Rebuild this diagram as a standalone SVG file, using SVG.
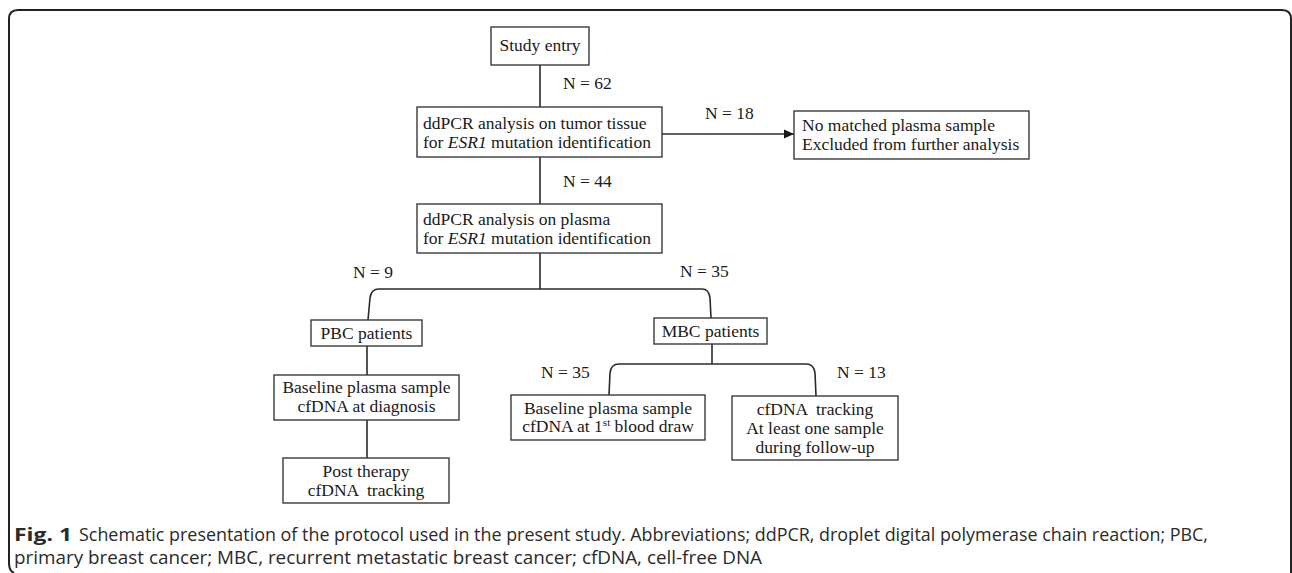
<svg xmlns="http://www.w3.org/2000/svg" width="1292" height="573" viewBox="0 0 1292 573">
<style>
  .box { fill: #ffffff; stroke: #3a3a3a; stroke-width: 1.4; }
  .t { font-family: "Liberation Serif", "Times New Roman", serif; font-size: 17.5px; fill: #1a1a1a; }
  .c { text-anchor: middle; }
  .i { font-style: italic; }
  .ln { fill: none; stroke: #2a2a2a; stroke-width: 1.6; }
  .cap { font-family: "Open Sans", "Noto Sans", sans-serif; font-size: 18.5px; fill: #2a2a2a; }
  .capb { font-weight: bold; }
</style>
<defs>
  <marker id="arr" markerWidth="11" markerHeight="11" refX="10" refY="5.5" orient="auto" markerUnits="userSpaceOnUse">
    <path d="M0,1 L10,5.5 L0,10 Z" fill="#1a1a1a"/>
  </marker>
</defs>
<rect width="1292" height="573" fill="#ffffff"/>
<path d="M14 573 Q9 571 9 563 L9 19 Q9 10 18 10 L1282 10 Q1291 10 1291 19 L1291 573" fill="none" stroke="#222" stroke-width="2"/>

<g id="connectors">
  <line class="ln" x1="540" y1="65" x2="540" y2="107"/>
  <line class="ln" x1="662" y1="134" x2="794" y2="134" marker-end="url(#arr)"/>
  <line class="ln" x1="540" y1="157" x2="540" y2="204"/>
  <line class="ln" x1="540" y1="253" x2="540" y2="289"/>
  <path class="ln" d="M368 320 L370 298 Q371 289 379 289 L702 289 Q709 289 710 298 L711 318"/>
  <line class="ln" x1="367" y1="346" x2="367" y2="375"/>
  <line class="ln" x1="367" y1="420" x2="367" y2="458"/>
  <line class="ln" x1="712" y1="344" x2="712" y2="364"/>
  <path class="ln" d="M609 395 L610 373 Q611 364 619 364 L806 364 Q814 364 815 373 L816 396"/>
  <text class="t" x="563" y="89">N = 62</text>
  <text class="t" x="705" y="119">N = 18</text>
  <text class="t" x="563" y="187">N = 44</text>
  <text class="t" x="353" y="278">N = 9</text>
  <text class="t" x="680" y="277">N = 35</text>
  <text class="t" x="541" y="378">N = 35</text>
  <text class="t" x="837" y="378">N = 13</text>
</g>

<g id="study-entry">
  <rect class="box" x="491" y="27" width="98" height="38"/>
  <text class="t c" x="540" y="51">Study entry</text>
</g>

<g id="tissue-analysis">
  <rect class="box" x="417" y="107" width="245" height="50"/>
  <text class="t" x="423" y="129">ddPCR analysis on tumor tissue</text>
  <text class="t" x="423" y="148">for <tspan class="i">ESR1</tspan> mutation identification</text>
</g>

<g id="excluded">
  <rect class="box" x="794" y="111" width="235" height="48"/>
  <text class="t" x="802" y="131">No matched plasma sample</text>
  <text class="t" x="802" y="150">Excluded from further analysis</text>
</g>

<g id="plasma-analysis">
  <rect class="box" x="417" y="204" width="245" height="49"/>
  <text class="t" x="423" y="225">ddPCR analysis on plasma</text>
  <text class="t" x="423" y="244">for <tspan class="i">ESR1</tspan> mutation identification</text>
</g>

<g id="pbc">
  <rect class="box" x="311" y="320" width="111" height="26"/>
  <text class="t c" x="366.5" y="339">PBC patients</text>
</g>

<g id="mbc">
  <rect class="box" x="654" y="318" width="113" height="26"/>
  <text class="t c" x="710.5" y="337">MBC patients</text>
</g>

<g id="pbc-baseline">
  <rect class="box" x="274" y="375" width="185" height="45"/>
  <text class="t c" x="366.5" y="393">Baseline plasma sample</text>
  <text class="t c" x="366.5" y="412">cfDNA at diagnosis</text>
</g>

<g id="pbc-post">
  <rect class="box" x="283" y="458" width="166" height="45"/>
  <text class="t c" x="366" y="477">Post therapy</text>
  <text class="t c" x="366" y="496" xml:space="preserve">cfDNA  tracking</text>
</g>

<g id="mbc-baseline">
  <rect class="box" x="511" y="395" width="194" height="45"/>
  <text class="t c" x="608" y="414">Baseline plasma sample</text>
  <text class="t c" x="608" y="432">cfDNA at 1<tspan font-size="11" dy="-6">st</tspan><tspan dy="6"> blood draw</tspan></text>
</g>

<g id="mbc-tracking">
  <rect class="box" x="732" y="396" width="166" height="64"/>
  <text class="t c" x="815" y="415" xml:space="preserve">cfDNA  tracking</text>
  <text class="t c" x="815" y="434">At least one sample</text>
  <text class="t c" x="815" y="453">during follow-up</text>
</g>

<g id="caption">
  <text class="cap capb" x="14" y="541" textLength="58" lengthAdjust="spacingAndGlyphs">Fig. 1</text>
  <text class="cap" x="79" y="541" textLength="1129" lengthAdjust="spacingAndGlyphs">Schematic presentation of the protocol used in the present study. Abbreviations; ddPCR, droplet digital polymerase chain reaction; PBC,</text>
  <text class="cap" x="14" y="564" textLength="748" lengthAdjust="spacingAndGlyphs">primary breast cancer; MBC, recurrent metastatic breast cancer; cfDNA, cell-free DNA</text>
</g>
</svg>
